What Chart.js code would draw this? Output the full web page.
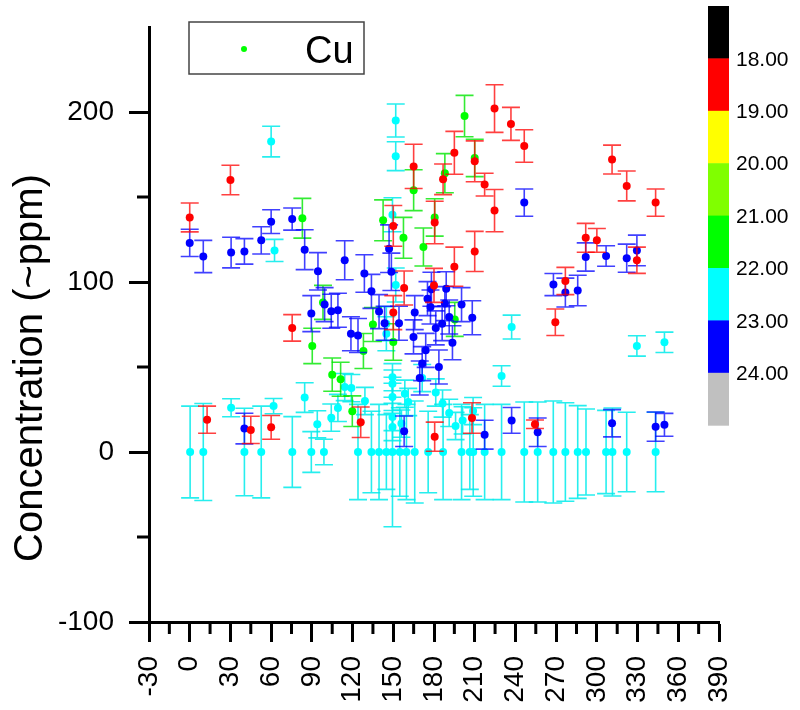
<!DOCTYPE html>
<html>
<head>
<meta charset="utf-8">
<script src="https://cdn.jsdelivr.net/npm/chart.js@4.4.1/dist/chart.umd.min.js"></script>
<style>
  html, body { margin: 0; padding: 0; background: #fff; }
</style>
</head>
<body>
<canvas id="cuChart" width="800" height="710"></canvas>
<script>
// Cu concentration vs direction, points coloured by hour

// --- RED (18-19 h) ---
const redX = [0, 30, 75.5, 12.8, 45, 60, 126, 150, 150, 158, 165, 180.5, 186.7, 195, 195, 210, 210, 217.3, 224.6, 224.6, 236.7, 246.5, 180.5, 208, 254.4, 269.4, 276.8, 291.8, 300, 311.2, 322, 329.5, 343.3, 180];
const redY = [138, 160, 73, 19, 13, 14.5, 17.5, 133, 82, 96.5, 168, 135, 160.4, 176, 109, 171, 118, 157.3, 202, 142, 193, 180, 9, 20, 16.3, 76.3, 100.6, 126, 124.5, 172, 156.5, 112.8, 146.7, 98];
const redErr = [8.5, 8.7, 7.8, 8, 8, 7, 9, 12, 10, 10, 13, 12.5, 9, 12.6, 11.5, 12, 11.8, 6.7, 14, 12.4, 9.7, 9.6, 8.6, 9, 2.5, 7.8, 8, 8.5, 7, 8.5, 8.8, 7.7, 8, 10];

// --- GREEN (21-22 h) ---
const greenX = [83, 90.3, 98.2, 105, 111.2, 119.8, 128, 135, 142.5, 150, 157.5, 165, 172.2, 180.5, 188, 195.3, 202.5, 210];
const greenY = [137.5, 62.4, 88, 45.5, 42.8, 24, 59.4, 75, 136.3, 64.7, 126, 154, 120.6, 138, 164, 78, 197.6, 173];
const greenErr = [11.7, 10.4, 10, 9.8, 10, 9, 10.3, 10, 12, 10.7, 12, 12, 11.2, 11, 11.5, 10, 12.2, 11];

// --- CYAN (22-23 h) ---
const cyanX = [60, 62.5, 151.8, 151.8, 149.4, 151.8, 144.9, 144.9, 30.5, 61.8, 84.7, 94, 104.3, 109.2, 114.2, 119.1, 129.1,
  149.4, 149.4, 149.4, 149.4, 149.4, 156, 158.5, 161, 171.3, 181.3, 186.3, 191.2, 195.9, 201.1, 208.8, 229.8, 237.2, 329.5, 349.8,
  0.3, 10, 40.3, 52.7, 75.6, 89.6, 98.9, 124, 133.9, 139.5, 144.9, 149.4, 154.8, 159.7, 165.8, 175.7, 186.7,
  200.3, 206.4, 208.9, 217.3, 229.8, 246.5, 256.4, 267.9, 276.8, 285.9, 292, 306.8, 311.5, 322, 343.3];
const cyanY = [182.6, 118.6, 195, 174, 139.6, 98.2, 75.5, 69.6, 26, 27, 32, 16.3, 20.2, 25.9, 38.2, 37.6, 30,
  44, 40.2, 32.4, 20.6, 14.7, 16.7, 34.3, 29.4, 43.5, 35, 28.5, 23, 15.3, 18.6, 24.1, 44.7, 73.5, 62.4, 64.5,
  0, 0, 0, 0, 0, 0, 0, 0, 0, 0, 0, 0, 0, 0, 0, 0, 0,
  0, 0, 0, 0, 0, 0, 0, 0, 0, 0, 0, 0, 0, 0, 0];
const cyanErr = [9, 6.5, 9.7, 8.5, 10, 10, 10, 10, 5.3, 4.5, 8.7, 8, 8, 8, 8, 8, 8,
  8, 8, 8, 8, 8, 8, 8, 8, 8, 8, 8, 8, 8, 8, 8, 6, 7, 6, 6,
  27, 28.5, 25.7, 27, 20.8, 12, 7.5, 28, 24, 28, 22, 44, 26, 28, 30, 24, 28,
  28, 22, 26, 28, 28, 29.4, 29.4, 30, 29, 27.3, 25.3, 24.5, 25.9, 23.4, 23.4];

// --- BLUE (23-24 h) ---
const blueX = [0, 10, 30.5, 40.3, 52.7, 60, 75.5, 84.7, 94.5, 89.6, 99.4, 104.3, 109.2, 114.2, 118.8, 124, 128.7, 133.9, 139.5, 143.6,
  146.9, 154.2, 165.8, 164.9, 169.5, 171.3, 173.9, 175.2, 177.4, 178.1, 181.3, 183.6, 186, 188, 191.2, 193.6, 200.3, 208.2, 246.5, 268,
  276.8, 285.9, 291.8, 306.8, 322, 329.5, 40.3, 158, 217.3, 237.2, 256.4, 311.2, 343.3, 349.8, 148.6, 189];
const blueY = [123, 115, 117.3, 118, 124.5, 135.5, 137, 119, 106.3, 81.4, 86.7, 82.8, 83.4, 112.8, 69.6, 68.5, 105, 94.5, 82.6, 75.7,
  119.6, 75.7, 82, 67.7, 43.5, 52, 59.8, 90.2, 85.3, 95.7, 73, 50, 75.5, 87.3, 79.4, 64.3, 86.7, 79, 146.7, 98.5,
  93.8, 95, 114.7, 115.3, 114, 118.6, 13.8, 12.2, 10.2, 18.6, 11.6, 16.9, 14.9, 16, 106, 96];
const blueErr = [8, 9.5, 9, 7.5, 8, 7, 6.5, 11.7, 11, 10.6, 10, 10, 10, 11.5, 10, 10, 11, 10, 10, 10,
  14, 10, 10, 10, 10, 10, 10, 10, 10, 10, 10, 10, 10, 10, 10, 10, 10, 10, 8, 6.5,
  8.5, 9, 8.3, 6, 8.3, 9, 9, 9, 8.5, 7.6, 8.4, 8, 8.6, 6.7, 11, 10];

// --- COLOUR SCALE ---
const hourLabels = ["18.00", "19.00", "20.00", "21.00", "22.00", "23.00", "24.00"];
const hourColors = ["#000000", "#ff0000", "#ffff00", "#80ff00", "#00ff00", "#00ffff", "#0000ff", "#c0c0c0"];

const FONT = "'Liberation Sans', Arial, sans-serif";
Chart.defaults.font.family = FONT;
Chart.defaults.color = "#000";

function points(xs, ys, errs) {
  return xs.map((x, i) => ({ x: x, y: ys[i], err: errs[i] }));
}

function serie(label, xs, ys, errs, color, barColor) {
  return {
    label: label,
    data: points(xs, ys, errs),
    backgroundColor: color,
    borderWidth: 0,
    pointRadius: 4,
    barColor: barColor
  };
}

// error bars, drawn under the markers of each dataset
const errorBars = {
  id: "errorBars",
  beforeDatasetDraw(chart, args) {
    const ds = chart.data.datasets[args.index];
    const yScale = chart.scales.y;
    const ctx = chart.ctx;
    ctx.save();
    ctx.strokeStyle = ds.barColor;
    ctx.lineWidth = 1.6;
    args.meta.data.forEach((pt, i) => {
      const raw = ds.data[i];
      const top = yScale.getPixelForValue(raw.y + raw.err);
      const bot = yScale.getPixelForValue(raw.y - raw.err);
      ctx.beginPath();
      ctx.moveTo(pt.x, top); ctx.lineTo(pt.x, bot);
      ctx.moveTo(pt.x - 9, top); ctx.lineTo(pt.x + 9, top);
      ctx.moveTo(pt.x - 9, bot); ctx.lineTo(pt.x + 9, bot);
      ctx.stroke();
    });
    ctx.restore();
  }
};

// minor ticks between the major ones
const minorTicks = {
  id: "minorTicks",
  afterDraw(chart) {
    const ctx = chart.ctx;
    const xs = chart.scales.x, ys = chart.scales.y;
    const area = chart.chartArea;
    ctx.save();
    ctx.strokeStyle = "#000";
    ctx.lineWidth = 3;
    ctx.beginPath();
    for (let i = 0; i < xs.ticks.length - 1; i++) {
      const px = xs.getPixelForValue((xs.ticks[i].value + xs.ticks[i + 1].value) / 2);
      ctx.moveTo(px, area.bottom); ctx.lineTo(px, area.bottom + 12);
    }
    const yv = ys.ticks.map(t => t.value);
    for (let i = 0; i < yv.length - 1; i++) {
      const py = ys.getPixelForValue((yv[i] + yv[i + 1]) / 2);
      ctx.moveTo(area.left, py); ctx.lineTo(area.left - 12, py);
    }
    ctx.stroke();
    ctx.restore();
  }
};

// axis title, legend box and colour bar
const decorations = {
  id: "decorations",
  afterDraw(chart) {
    const ctx = chart.ctx;
    ctx.save();
    // y title
    ctx.save();
    ctx.translate(31, 368);
    ctx.rotate(-Math.PI / 2);
    ctx.fillStyle = "#000";
    ctx.font = "40px " + FONT;
    ctx.textAlign = "center";
    ctx.textBaseline = "middle";
    ctx.fillText("Concentration (~ppm)", 0, 0);
    ctx.restore();

    // legend
    ctx.strokeStyle = "#444";
    ctx.lineWidth = 1.5;
    ctx.strokeRect(189, 22, 175, 52);
    ctx.fillStyle = "#00ff00";
    ctx.beginPath();
    ctx.arc(244, 49, 3, 0, Math.PI * 2);
    ctx.fill();
    ctx.fillStyle = "#000";
    ctx.font = "38px " + FONT;
    ctx.textBaseline = "alphabetic";
    ctx.textAlign = "left";
    ctx.fillText("Cu", 305, 63);

    // colour bar
    const top = 6, step = 52.4;
    hourColors.forEach((c, i) => {
      ctx.fillStyle = c;
      ctx.fillRect(708, top + i * step, 21, step + 0.5);
    });
    ctx.fillStyle = "#000";
    ctx.font = "21px " + FONT;
    ctx.textBaseline = "middle";
    hourLabels.forEach((t, i) => {
      ctx.fillText(t, 736, top + (i + 1) * step + 1.5);
    });
    ctx.restore();
  }
};

new Chart(document.getElementById("cuChart"), {
  type: "scatter",
  data: {
    datasets: [
      serie("Cu 18-19", redX, redY, redErr, "#ff0000", "rgba(255,0,0,0.75)"),
      serie("Cu 23-24", blueX, blueY, blueErr, "#0000ff", "rgba(0,0,255,0.75)"),
      serie("Cu 21-22", greenX, greenY, greenErr, "#00ff00", "rgba(0,230,0,0.8)"),
      serie("Cu 22-23", cyanX, cyanY, cyanErr, "#00ffff", "rgba(0,235,235,0.85)")
    ]
  },
  options: {
    responsive: false,
    animation: false,
    devicePixelRatio: 1,
    layout: { padding: { top: 27, right: 81, left: 0, bottom: 0 } },
    plugins: {
      legend: { display: false },
      tooltip: { enabled: false }
    },
    scales: {
      x: {
        type: "linear",
        min: -30,
        max: 390,
        ticks: { stepSize: 30, minRotation: 90, maxRotation: 90, padding: 14, font: { size: 28 }, color: "#000" },
        grid: { drawOnChartArea: false, tickLength: 20, tickWidth: 3, tickColor: "#000" },
        border: { color: "#000", width: 3 },
        afterFit(s) { s.height = 88; s.paddingLeft = 0; s.paddingRight = 0; }
      },
      y: {
        min: -100,
        max: 250,
        ticks: { stepSize: 100, includeBounds: false, padding: 15, font: { size: 28 }, color: "#000" },
        grid: { drawOnChartArea: false, tickLength: 20, tickWidth: 3, tickColor: "#000" },
        border: { color: "#000", width: 3 },
        afterFit(s) { s.width = 149; s.paddingTop = 0; s.paddingBottom = 0; }
      }
    }
  },
  plugins: [errorBars, minorTicks, decorations]
});
</script>
</body>
</html>
